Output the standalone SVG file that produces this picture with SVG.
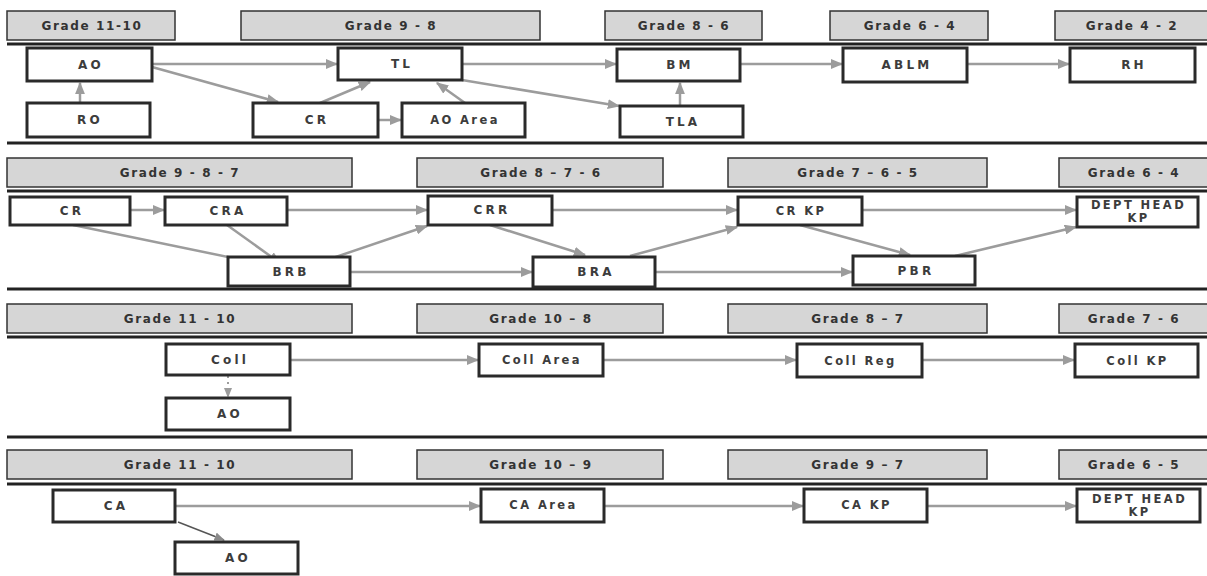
<svg xmlns="http://www.w3.org/2000/svg" width="1207" height="576" viewBox="0 0 1207 576">
<style>
.hdr{fill:#d6d6d6;stroke:#333;stroke-width:1.5}
.band{stroke:#222;stroke-width:3}
.nd rect{fill:#fff;stroke:#2a2a2a;stroke-width:3}
text{font-family:"DejaVu Sans","Liberation Sans",Arial,sans-serif;font-weight:bold;font-size:12px;fill:#333;text-anchor:middle}
.ht{letter-spacing:1.6px;fill:#333}
.nt{letter-spacing:3.2px;fill:#3c3c3c}
.nt2{letter-spacing:2.4px;fill:#3c3c3c;font-size:11.5px}
.c line{stroke:#9c9c9c;stroke-width:2.5;marker-end:url(#ah)}
</style>
<defs>
<marker id="ah" viewBox="0 0 10 8" refX="9" refY="4" markerWidth="5" markerHeight="4" orient="auto" markerUnits="strokeWidth">
<path d="M0,0 L10,4 L0,8 z" fill="#9c9c9c"/>
</marker>
<marker id="ahd" viewBox="0 0 10 8" refX="9" refY="4" markerWidth="7" markerHeight="6" orient="auto" markerUnits="strokeWidth">
<path d="M0,0 L10,4 L0,8 z" fill="#8a8a8a"/>
</marker>
</defs>
<rect width="1207" height="576" fill="#fff"/>

<g id="section1-headers">
<rect class="hdr" x="7" y="11" width="168" height="29"/><text class="ht" x="92" y="30">Grade 11-10</text>
<rect class="hdr" x="241" y="11" width="299" height="29"/><text class="ht" x="391" y="30">Grade 9 - 8</text>
<rect class="hdr" x="605" y="11" width="157" height="29"/><text class="ht" x="684" y="30">Grade 8 - 6</text>
<rect class="hdr" x="830" y="11" width="158" height="29"/><text class="ht" x="910" y="30">Grade 6 - 4</text>
<rect class="hdr" x="1055" y="11" width="160" height="29"/><text class="ht" x="1132" y="30">Grade 4 - 2</text>
</g>
<g id="bands">
<line class="band" x1="7" y1="44" x2="1207" y2="44"/>
<line class="band" x1="7" y1="143" x2="1207" y2="143"/>
<line class="band" x1="7" y1="191" x2="1207" y2="191"/>
<line class="band" x1="7" y1="289" x2="1207" y2="289"/>
<line class="band" x1="7" y1="337" x2="1207" y2="337"/>
<line class="band" x1="7" y1="437" x2="1207" y2="437"/>
<line class="band" x1="7" y1="484" x2="1207" y2="484"/>
</g>
<g id="section2-headers">
<rect class="hdr" x="7" y="158" width="345" height="29"/><text class="ht" x="180" y="177">Grade 9 - 8 - 7</text>
<rect class="hdr" x="417" y="158" width="246" height="29"/><text class="ht" x="541" y="177">Grade 8 – 7 - 6</text>
<rect class="hdr" x="728" y="158" width="259" height="29"/><text class="ht" x="858" y="177">Grade 7 – 6 - 5</text>
<rect class="hdr" x="1059" y="158" width="156" height="29"/><text class="ht" x="1134" y="177">Grade 6 - 4</text>
</g>
<g id="section3-headers">
<rect class="hdr" x="7" y="304" width="345" height="29"/><text class="ht" x="180" y="323">Grade 11 - 10</text>
<rect class="hdr" x="417" y="304" width="246" height="29"/><text class="ht" x="541" y="323">Grade 10 – 8</text>
<rect class="hdr" x="728" y="304" width="259" height="29"/><text class="ht" x="858" y="323">Grade 8 – 7</text>
<rect class="hdr" x="1059" y="304" width="156" height="29"/><text class="ht" x="1134" y="323">Grade 7 - 6</text>
</g>
<g id="section4-headers">
<rect class="hdr" x="7" y="450" width="345" height="29"/><text class="ht" x="180" y="469">Grade 11 - 10</text>
<rect class="hdr" x="417" y="450" width="246" height="29"/><text class="ht" x="541" y="469">Grade 10 – 9</text>
<rect class="hdr" x="728" y="450" width="259" height="29"/><text class="ht" x="858" y="469">Grade 9 – 7</text>
<rect class="hdr" x="1059" y="450" width="156" height="29"/><text class="ht" x="1134" y="469">Grade 6 - 5</text>
</g>

<g id="connectors" class="c">
<line x1="152" y1="64" x2="337" y2="64"/>
<line x1="152" y1="67" x2="278" y2="102"/>
<line x1="80" y1="103" x2="80" y2="83"/>
<line x1="320" y1="103" x2="370" y2="82"/>
<line x1="378" y1="120" x2="401" y2="120"/>
<line x1="465" y1="103" x2="437" y2="83"/>
<line x1="462" y1="64" x2="616" y2="64"/>
<line x1="462" y1="80" x2="619" y2="106"/>
<line x1="680" y1="106" x2="680" y2="83"/>
<line x1="740" y1="64" x2="842" y2="64"/>
<line x1="967" y1="64" x2="1069" y2="64"/>
<line x1="130" y1="210" x2="164" y2="210"/>
<line x1="287" y1="210" x2="427" y2="210"/>
<line x1="73" y1="225" x2="257" y2="263"/>
<line x1="227" y1="225" x2="280" y2="263"/>
<line x1="315" y1="264" x2="427" y2="226"/>
<line x1="350" y1="272" x2="532" y2="272"/>
<line x1="490" y1="225" x2="585" y2="255"/>
<line x1="552" y1="210" x2="737" y2="210"/>
<line x1="630" y1="256" x2="737" y2="227"/>
<line x1="655" y1="272" x2="852" y2="272"/>
<line x1="800" y1="225" x2="910" y2="255"/>
<line x1="862" y1="210" x2="1076" y2="210"/>
<line x1="955" y1="256" x2="1076" y2="227"/>
<line x1="290" y1="360" x2="478" y2="360"/>
<line x1="603" y1="360" x2="796" y2="360"/>
<line x1="922" y1="360" x2="1074" y2="360"/>
<line x1="228" y1="376" x2="228" y2="397" style="stroke-dasharray:2 4;stroke-width:2"/>
<line x1="175" y1="506" x2="480" y2="506"/>
<line x1="604" y1="506" x2="803" y2="506"/>
<line x1="927" y1="506" x2="1076" y2="506"/>
<line x1="178" y1="522" x2="224" y2="540" style="stroke:#555;stroke-width:1.5;marker-end:url(#ahd)"/>
</g>

<g id="n-AO1" class="nd"><rect x="27" y="48" width="125" height="33"/><text class="nt" x="91" y="69">AO</text></g>
<g id="n-RO" class="nd"><rect x="27" y="103" width="123" height="34"/><text class="nt" x="90" y="124">RO</text></g>
<g id="n-TL" class="nd"><rect x="338" y="48" width="124" height="32"/><text class="nt" x="402" y="68">TL</text></g>
<g id="n-CR1" class="nd"><rect x="253" y="103" width="125" height="34"/><text class="nt" x="317" y="124">CR</text></g>
<g id="n-AOArea" class="nd"><rect x="402" y="103" width="123" height="34"/><text class="nt2" x="465" y="124">AO Area</text></g>
<g id="n-BM" class="nd"><rect x="617" y="49" width="123" height="32"/><text class="nt" x="680" y="69">BM</text></g>
<g id="n-TLA" class="nd"><rect x="620" y="106" width="123" height="31"/><text class="nt" x="683" y="126">TLA</text></g>
<g id="n-ABLM" class="nd"><rect x="843" y="48" width="124" height="34"/><text class="nt" x="907" y="69">ABLM</text></g>
<g id="n-RH" class="nd"><rect x="1070" y="48" width="125" height="34"/><text class="nt" x="1134" y="69">RH</text></g>

<g id="n-CR2" class="nd"><rect x="10" y="197" width="120" height="28"/><text class="nt" x="72" y="215">CR</text></g>
<g id="n-CRA" class="nd"><rect x="165" y="197" width="122" height="28"/><text class="nt" x="228" y="215">CRA</text></g>
<g id="n-BRB" class="nd"><rect x="228" y="257" width="122" height="29"/><text class="nt" x="291" y="276">BRB</text></g>
<g id="n-CRR" class="nd"><rect x="428" y="196" width="124" height="29"/><text class="nt" x="492" y="214">CRR</text></g>
<g id="n-BRA" class="nd"><rect x="533" y="257" width="122" height="30"/><text class="nt" x="596" y="276">BRA</text></g>
<g id="n-CRKP" class="nd"><rect x="738" y="197" width="124" height="28"/><text class="nt2" x="801" y="215">CR KP</text></g>
<g id="n-PBR" class="nd"><rect x="853" y="256" width="122" height="29"/><text class="nt" x="916" y="275">PBR</text></g>
<g id="n-DH1" class="nd"><rect x="1077" y="197" width="121" height="30"/><text class="nt2" x="1138.5" y="209">DEPT HEAD</text><text class="nt2" x="1138.5" y="222">KP</text></g>

<g id="n-Coll" class="nd"><rect x="166" y="344" width="124" height="31"/><text class="nt" x="230" y="364">Coll</text></g>
<g id="n-AO3" class="nd"><rect x="166" y="398" width="124" height="32"/><text class="nt" x="230" y="418">AO</text></g>
<g id="n-CollArea" class="nd"><rect x="479" y="344" width="124" height="32"/><text class="nt2" x="542" y="364">Coll Area</text></g>
<g id="n-CollReg" class="nd"><rect x="797" y="344" width="125" height="33"/><text class="nt2" x="860.5" y="365">Coll Reg</text></g>
<g id="n-CollKP" class="nd"><rect x="1075" y="344" width="123" height="33"/><text class="nt2" x="1137.5" y="365">Coll KP</text></g>

<g id="n-CA" class="nd"><rect x="53" y="490" width="122" height="32"/><text class="nt" x="116" y="510">CA</text></g>
<g id="n-AO4" class="nd"><rect x="175" y="542" width="123" height="32"/><text class="nt" x="238" y="562">AO</text></g>
<g id="n-CAArea" class="nd"><rect x="481" y="489" width="123" height="33"/><text class="nt2" x="543.5" y="509">CA Area</text></g>
<g id="n-CAKP" class="nd"><rect x="804" y="489" width="123" height="33"/><text class="nt2" x="866.5" y="509">CA KP</text></g>
<g id="n-DH2" class="nd"><rect x="1077" y="489" width="123" height="33"/><text class="nt2" x="1139.5" y="503">DEPT HEAD</text><text class="nt2" x="1139.5" y="516">KP</text></g>
</svg>
